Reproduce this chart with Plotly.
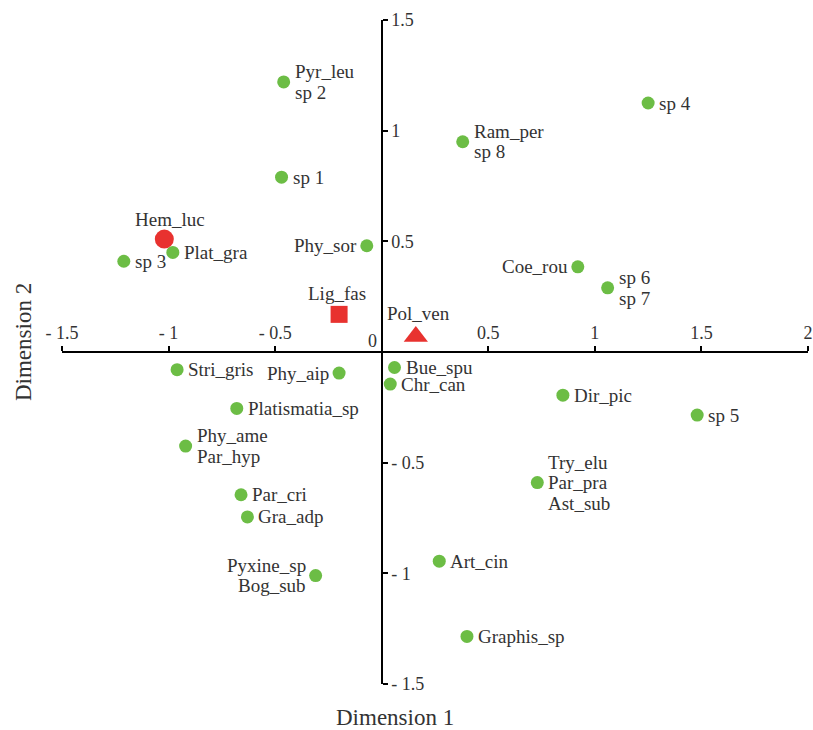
import plotly.graph_objects as go

# ---- data ----
species_labels = [
    "Pyr_leu<br>sp 2", "Ram_per<br>sp 8", "sp 4", "sp 1", "Plat_gra", "sp 3",
    "Phy_sor", "Coe_rou", "sp 6<br>sp 7", "Stri_gris", "Phy_aip", "Bue_spu",
    "Chr_can", "Platismatia_sp", "Dir_pic", "sp 5", "Phy_ame<br>Par_hyp",
    "Try_elu<br>Par_pra<br>Ast_sub", "Par_cri", "Gra_adp", "Pyxine_sp<br>Bog_sub",
    "Art_cin", "Graphis_sp",
]
species_x = [-0.46, 0.38, 1.25, -0.47, -0.98, -1.21, -0.07, 0.92, 1.06, -0.96,
             -0.20, 0.06, 0.04, -0.68, 0.85, 1.48, -0.92, 0.73, -0.66, -0.63,
             -0.31, 0.27, 0.40]
species_y = [1.22, 0.95, 1.125, 0.79, 0.45, 0.41, 0.48, 0.385, 0.29, -0.08,
             -0.095, -0.07, -0.145, -0.255, -0.195, -0.285, -0.425, -0.59,
             -0.645, -0.745, -1.01, -0.945, -1.285]

site_labels = ["Hem_luc", "Lig_fas", "Pol_ven"]
site_x = [-1.02, -0.20, 0.16]
site_y = [0.51, 0.17, 0.07]

x_ticks = [-1.5, -1, -0.5, 0.5, 1, 1.5, 2]
x_ticktext = ["- 1.5", "- 1", "- 0.5", "0.5", "1", "1.5", "2"]
y_ticks = [-1.5, -1, -0.5, 0.5, 1, 1.5]
y_ticktext = ["- 1.5", "- 1", "- 0.5", "0.5", "1", "1.5"]

x_range = [-1.5, 2]
y_range = [-1.5, 1.5]

# ---- styles ----
left_labels = {"Phy_sor", "Coe_rou", "Phy_aip", "Pyxine_sp<br>Bog_sub"}
site_symbols = ["circle", "square", "triangle-up"]
site_sizes = [19, 17, 21]
site_label_xshift = [6, -2, 3]
site_label_yshift = [20, 21, 23]

FONT = "Liberation Serif, Times New Roman, serif"
TXT = "#333333"
GREEN = "#6cbd45"
RED = "#e8322f"
LABEL_SIZE = 19
LINE_STEP = 20.5

fig = go.Figure()
fig.add_trace(go.Scatter(
    x=species_x, y=species_y, mode="markers", text=species_labels,
    marker=dict(color=GREEN, size=13, opacity=1, line=dict(width=0)),
    cliponaxis=False, showlegend=False, hoverinfo="text",
))
fig.add_trace(go.Scatter(
    x=site_x, y=site_y, mode="markers", text=site_labels,
    marker=dict(color=RED, size=site_sizes, symbol=site_symbols, opacity=1,
                line=dict(width=0)),
    cliponaxis=False, showlegend=False, hoverinfo="text",
))

annotations = []
for lab, xv, yv in zip(species_labels, species_x, species_y):
    lines = lab.split("<br>")
    n = len(lines)
    is_left = lab in left_labels
    for i, line in enumerate(lines):
        annotations.append(dict(
            x=xv, y=yv, xref="x", yref="y", text=line, showarrow=False,
            xanchor="right" if is_left else "left", yanchor="middle",
            xshift=-8 if is_left else 9,
            yshift=((n - 1) / 2 - i) * LINE_STEP,
            font=dict(family=FONT, size=LABEL_SIZE, color=TXT),
        ))
for lab, xv, yv, dx, dy in zip(site_labels, site_x, site_y,
                               site_label_xshift, site_label_yshift):
    annotations.append(dict(
        x=xv, y=yv, xref="x", yref="y", text=lab, showarrow=False,
        xanchor="center", yanchor="middle", xshift=dx, yshift=dy,
        font=dict(family=FONT, size=LABEL_SIZE, color=TXT),
    ))

annotations += [
    dict(x=0, y=0, xref="x", yref="y", text="0", showarrow=False,
         xanchor="right", yanchor="bottom", xshift=-3, yshift=-1,
         font=dict(family=FONT, size=18, color=TXT)),
    dict(x=0.446, y=-0.0497, xref="paper", yref="paper", text="Dimension 1",
         showarrow=False, xanchor="center", yanchor="middle",
         font=dict(family=FONT, size=23, color=TXT)),
    dict(x=-0.0523, y=0.515, xref="paper", yref="paper", text="Dimension 2",
         showarrow=False, textangle=-90, xanchor="center", yanchor="middle",
         font=dict(family=FONT, size=23, color=TXT)),
]

xpos = (0 - y_range[0]) / (y_range[1] - y_range[0])
ypos = (0 - x_range[0]) / (x_range[1] - x_range[0])

fig.update_layout(
    width=813, height=730,
    margin=dict(l=62, r=5, t=20, b=46),
    paper_bgcolor="white", plot_bgcolor="white",
    font=dict(family=FONT, size=18, color=TXT),
    xaxis=dict(
        range=x_range, anchor="free", position=xpos, side="top",
        showgrid=False, zeroline=False, showline=True, linecolor="black", linewidth=2,
        ticks="outside", ticklen=5, tickwidth=2, tickcolor="black",
        tickvals=x_ticks, ticktext=x_ticktext, automargin=False,
        tickfont=dict(family=FONT, size=18, color=TXT),
    ),
    yaxis=dict(
        range=y_range, anchor="free", position=ypos, side="right",
        showgrid=False, zeroline=False, showline=True, linecolor="black", linewidth=2,
        ticks="outside", ticklen=5, tickwidth=2, tickcolor="black",
        tickvals=y_ticks, ticktext=y_ticktext, automargin=False,
        tickfont=dict(family=FONT, size=18, color=TXT),
    ),
    annotations=annotations,
)

fig.write_html("out.html", config={"displayModeBar": False},
               post_script="document.body.style.margin='0';")
